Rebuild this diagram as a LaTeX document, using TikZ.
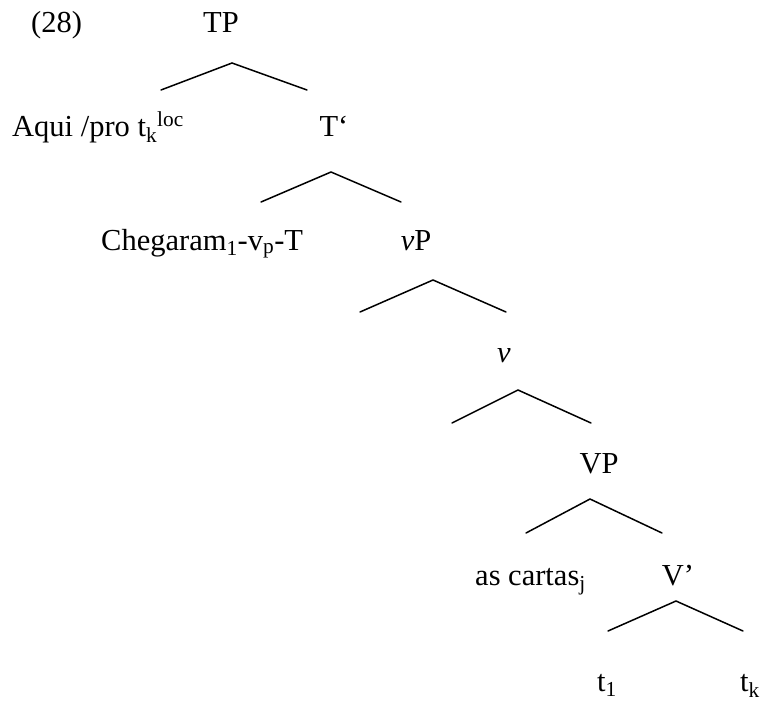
\documentclass[tikz,border=0pt]{standalone}
\usepackage{fontspec}
\setmainfont{Liberation Serif}
\usetikzlibrary{positioning}

\tikzset{
  label/.style={font=\fontsize{30.5}{36}\selectfont, inner sep=0pt, anchor=base},
  branch/.style={line width=1.5pt, line cap=round, line join=miter}
}

\begin{document}
\begin{tikzpicture}[x=1pt, y=-1pt]
  \useasboundingbox (0,0) rectangle (767,704);
  % labels
  \node[label, anchor=base west] (ex) at (31,32) {(28)};
  \node[label] (tp) at (221,32) {TP};
  \node[label, anchor=base west] (aqui) at (12,136) {Aqui /pro t\textsubscript{k}\textsuperscript{loc}};
  \node[label] (tbar) at (334,136) {T‘};
  \node[label, anchor=base west] (cheg) at (101,250) {Chegaram\textsubscript{1}-v\textsubscript{p}-T};
  \node[label] (vp) at (416,250) {\textit{v}P};
  \node[label] (vhead) at (504,362) {\textit{v}};
  \node[label] (VP) at (599,473) {VP};
  \node[label, anchor=base west] (cartas) at (475,585) {as cartas\textsubscript{j}};
  \node[label] (vbar) at (678,585) {V’};
  \node[label, anchor=base west] (tone) at (597,691) {t\textsubscript{1}};
  \node[label, anchor=base west] (tk) at (740,691) {t\textsubscript{k}};
  % branches
  \coordinate (tpfork) at (232,63);
  \coordinate (tbarfork) at (331,172);
  \coordinate (vpfork) at (433,280);
  \coordinate (vfork) at (518,390);
  \coordinate (VPfork) at (590,499);
  \coordinate (vbarfork) at (676,601);
  \draw[branch] (tpfork) ++(-71,27) -- (tpfork) -- ++(75,27);
  \draw[branch] (tbarfork) ++(-70,30) -- (tbarfork) -- ++(70,30);
  \draw[branch] (vpfork) ++(-73,32) -- (vpfork) -- ++(73,32);
  \draw[branch] (vfork) ++(-66,33) -- (vfork) -- ++(73,33);
  \draw[branch] (VPfork) ++(-64,34) -- (VPfork) -- ++(72,34);
  \draw[branch] (vbarfork) ++(-68,30) -- (vbarfork) -- ++(67,30);
\end{tikzpicture}
\end{document}
